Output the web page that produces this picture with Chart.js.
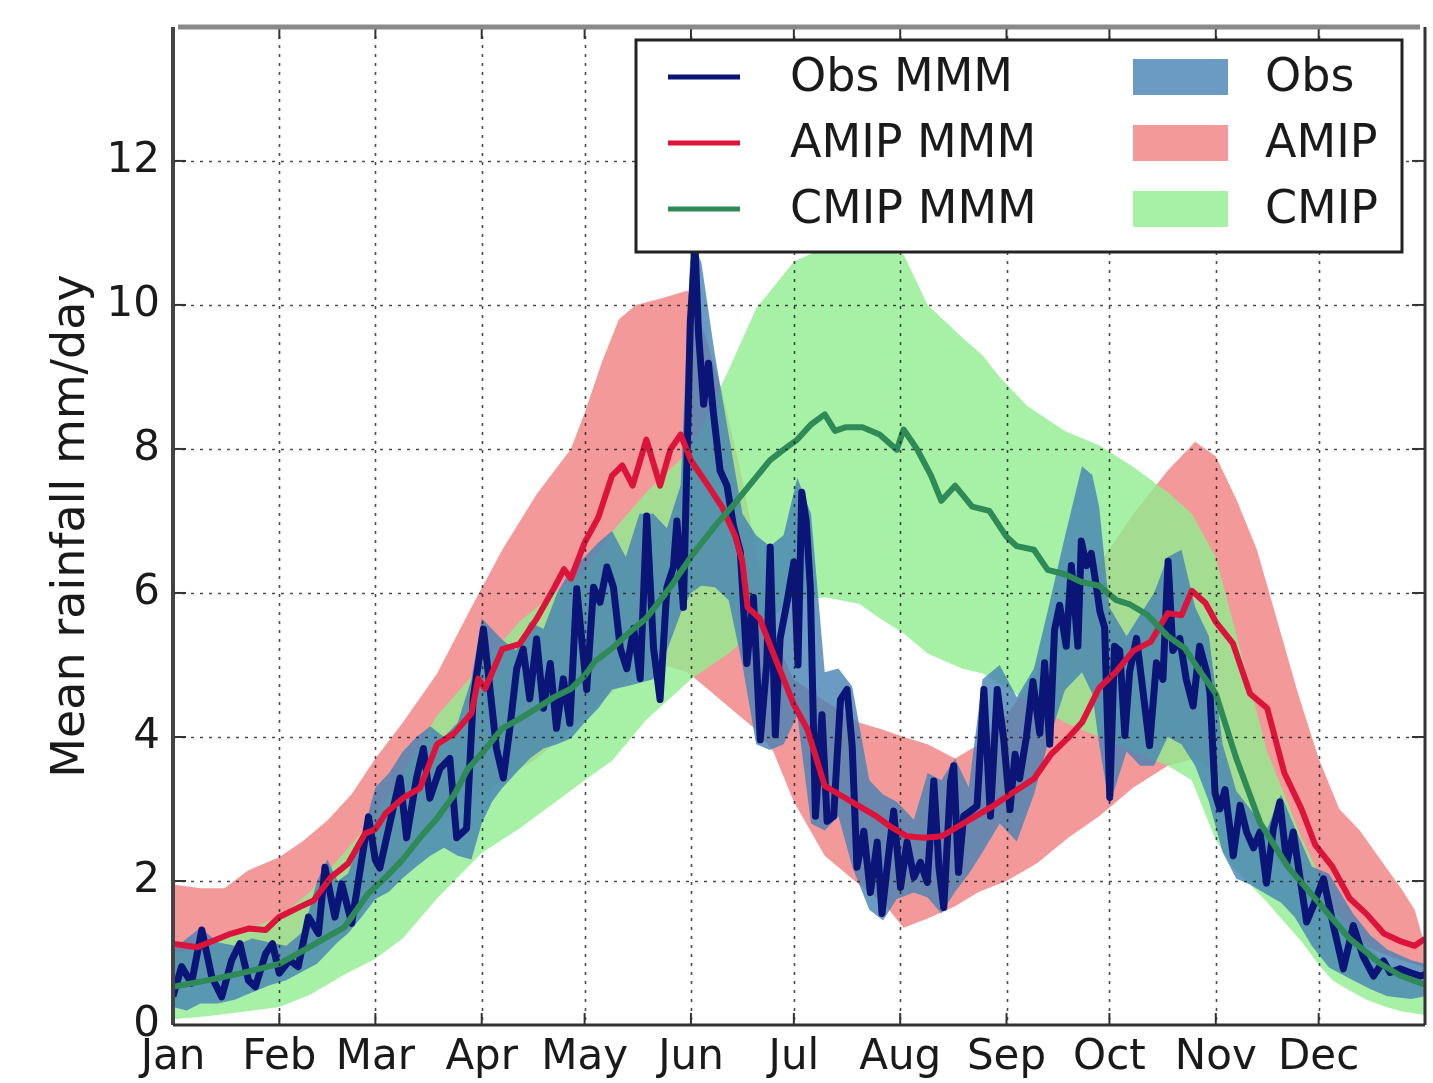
<!DOCTYPE html>
<html>
<head>
<meta charset="utf-8">
<title>Mean rainfall</title>
<script src="https://cdn.jsdelivr.net/npm/chart.js@4.4.1/dist/chart.umd.min.js"></script>
<style>
  html, body { margin: 0; padding: 0; background: #fff; }
  #wrap { width: 1433px; height: 1083px; }
</style>
</head>
<body>
<div id="wrap"><canvas id="rainChart" width="1433" height="1083"></canvas></div>
<script>
// x values are day of year (0 = 1 Jan)
const monthStarts = [0, 31, 59, 90, 120, 151, 181, 212, 243, 273, 304, 334];
const monthNames = ['Jan', 'Feb', 'Mar', 'Apr', 'May', 'Jun', 'Jul', 'Aug', 'Sep', 'Oct', 'Nov', 'Dec'];
const yTicks = [0, 2, 4, 6, 8, 10, 12];

// Obs multi-model mean (daily, noisy)
const obsMmmDays = [
  0, 2.5, 5.4, 8.4, 11.3, 14.2, 17.1, 19.5, 22, 24, 27, 29, 31, 34, 36.5, 39.5, 42.4, 44.3, 47.2, 49.2, 52.1, 55, 57, 59,
  60.3, 63.2, 66.2, 68.1, 71, 73, 74.9, 77.8, 80.7, 82.7, 85.6, 87.5, 90.5, 92.4, 94.3, 96.3, 98.2, 100.2, 102.1, 104, 106, 108, 110, 111.8, 113.8, 115.7, 117.7,
  120.6, 122.6, 124.5, 126.5, 128.4, 130.4, 132.3, 134.3, 136.2, 138.1, 140.1, 142, 144, 145.9, 146.9, 148.8, 149.8, 150.8, 152.2, 153.2, 154.7, 156.1, 157.6, 159.5, 161.5, 163.4, 165.4, 167.3, 169.2, 171.2, 173.1, 174.1, 175.6, 177, 179, 181,
  182.2, 183.3, 184.6, 185.8, 187.3, 189.2, 190.7, 192.6, 194.6, 196.5, 198, 199.4, 201.4, 203.3, 205.3, 206.7, 208.2, 210.1, 212.1, 214, 216, 217.9, 219.9, 221.8, 223.3, 224.7, 226.7, 227.6, 229, 230.5, 232.5, 234.4, 236.4, 238.3, 240.3, 242.2,
  244, 245.5, 246.8, 248.8, 250.7, 252.7, 254.1, 255.6, 257, 258.5, 260.4, 261.9, 263.8, 264.8, 266.3, 267.7, 269.2, 270.2, 271.6, 273.1, 274.5, 276, 277.5, 278.9, 280.9, 282.8, 284.7, 286.7, 288.6, 290.1, 291.5, 293.5, 295.4, 297.4, 299.3, 301.3,
  302.3, 303.8, 305.2, 306.7, 309.1, 311.1, 313, 315, 316.9, 318.8, 320.8, 322.7, 324.7, 326.6, 328.6, 330.5, 332.4, 335.4, 338.3, 341.2, 344.1, 347, 350, 352.9, 354.8, 357.7, 360.6, 363.6, 365
];
const obsMmm = [
  0.4, 0.81, 0.58, 1.32, 0.67, 0.39, 0.9, 1.13, 0.62, 0.53, 0.99, 1.13, 0.72, 0.9, 0.81, 1.5, 1.27, 2.19, 1.5, 1.96, 1.41, 2.29, 2.89, 2.29,
  2.18, 2.8, 3.43, 2.6, 3.43, 3.84, 3.15, 3.56, 3.7, 2.6, 2.73, 4.53, 5.5, 4.67, 3.84, 3.43, 4.12, 4.95, 5.22, 4.53, 5.36, 4.4, 5.02, 4.12, 4.81, 4.19, 6.06,
  4.66, 6.08, 5.87, 6.36, 6.08, 5.23, 4.95, 5.51, 4.81, 7.07, 5.23, 4.52, 6.08, 6.36, 7.0, 5.8, 7.77, 9.75, 10.8, 9.61, 8.62, 9.19, 8.48, 7.7, 7.49, 6.93, 6.57, 5.02, 5.94, 3.96, 5.02, 6.64, 4.03, 5.37, 5.87, 6.43,
  5.0, 7.4, 7.0, 6.08, 2.9, 4.31, 2.83, 2.9, 4.52, 4.66, 3.88, 2.19, 2.69, 1.84, 2.54, 1.55, 2.19, 2.97, 1.91, 2.54, 2.05, 2.26, 1.98, 3.39, 2.19, 1.63, 3.39, 3.6, 2.12, 2.9, 2.97, 3.04, 4.66, 2.9, 4.66, 3.96,
  2.99, 3.76, 3.42, 4.0, 4.77, 4.05, 5.03, 3.9, 5.49, 5.83, 5.26, 6.38, 5.26, 6.72, 6.38, 6.55, 6.09, 5.75, 5.52, 3.16, 5.26, 5.2, 4.02, 4.91, 5.37, 4.63, 3.88, 5.03, 4.8, 6.44, 5.2, 5.37, 4.8, 4.43, 5.26, 4.91,
  4.62, 3.22, 3.0, 3.27, 2.35, 3.05, 2.68, 2.46, 2.68, 1.97, 2.73, 3.1, 2.24, 2.68, 2.03, 1.43, 1.65, 2.03, 1.38, 0.78, 1.38, 0.95, 0.68, 0.89, 0.73, 0.78, 0.73, 0.68, 0.7
];

// AMIP multi-model mean
const amipMmmDays = [0, 7, 17, 22, 27, 31, 37, 41, 46, 51, 56, 59, 62, 67, 72, 77, 82, 87, 89, 91, 96, 101, 106, 111, 114, 116, 120, 124, 128, 131,
  134, 138, 142, 145, 148, 151, 156, 160, 164, 166, 167.5, 171, 175, 181, 185, 190, 195, 200, 205, 209, 214, 219, 224, 229, 234, 239, 244, 251, 256, 261,
  265, 270, 275, 280, 285, 290, 294, 297, 301, 304, 309, 314, 319, 324, 329, 333, 338, 343, 348, 353, 358, 362, 365];
const amipMmm = [1.13, 1.08, 1.27, 1.34, 1.32, 1.5, 1.64, 1.73, 2.05, 2.24, 2.66, 2.72, 2.94, 3.15, 3.29, 3.9, 4.05, 4.33, 4.81, 4.67, 5.22, 5.29, 5.64, 6.06, 6.33, 6.2, 6.7, 7.05, 7.63, 7.77,
  7.49, 8.13, 7.49, 7.99, 8.2, 7.84, 7.49, 7.2, 6.78, 6.43, 5.8, 5.65, 5.16, 4.45, 4.1, 3.32, 3.18, 3.04, 2.9, 2.76, 2.62, 2.6, 2.62, 2.76, 2.9, 3.04, 3.2, 3.42, 3.76, 3.99,
  4.2, 4.68, 4.91, 5.2, 5.32, 5.72, 5.69, 6.03, 5.86, 5.6, 5.3, 4.6, 4.4, 3.5, 3.0, 2.5, 2.2, 1.76, 1.54, 1.27, 1.16, 1.1, 1.2];

// CMIP multi-model mean
const cmipMmmDays = [0, 10, 20, 31, 40, 50, 57, 62, 67, 72, 77, 82, 86, 90, 96, 101, 106, 111, 116, 120, 123, 128, 133, 138, 145, 151, 158, 163, 168, 174,
  178, 182, 186, 190, 193, 196, 201, 206, 211, 213, 217, 221, 224, 228, 233, 238, 243, 246, 251, 255, 260, 265, 270, 275, 279, 284, 290, 295, 299, 304,
  310, 317, 325, 334, 343, 352, 358, 365];
const cmipMmm = [0.53, 0.62, 0.72, 0.85, 1.09, 1.36, 1.83, 2.05, 2.3, 2.6, 2.87, 3.2, 3.56, 3.77, 4.12, 4.25, 4.4, 4.55, 4.67, 4.85, 5.05, 5.23, 5.45, 5.65, 6.08, 6.5, 6.93, 7.2, 7.49, 7.84,
  7.99, 8.13, 8.34, 8.48, 8.25, 8.3, 8.3, 8.2, 7.99, 8.27, 7.99, 7.63, 7.28, 7.49, 7.2, 7.14, 6.78, 6.65, 6.6, 6.32, 6.26, 6.15, 6.1, 5.9, 5.84, 5.7, 5.4, 5.23, 4.94, 4.6,
  3.7, 2.8, 2.2, 1.7, 1.2, 0.85, 0.68, 0.56];

// Obs spread
const obsBandDays = [0, 4, 8, 13, 18, 23, 28, 33, 38, 42, 45, 48, 51, 55, 59, 63, 67, 71, 75, 79, 83, 87, 90, 93, 96, 100, 104, 108, 112, 116,
  120, 124, 128, 132, 136, 140, 144, 148, 151, 154, 158, 162, 166, 170, 174, 178, 182, 186, 190, 194, 198, 203, 207, 211, 216, 220, 224, 228, 232, 236,
  241, 246, 251, 255, 260, 265, 268, 270, 273, 278, 282, 286, 290, 294, 298, 302, 306, 310, 314, 319, 323, 327, 332, 337, 344, 349, 354, 361, 365];
const obsBandHigh = [1.05, 1.2, 1.35, 1.15, 1.1, 1.2, 1.15, 1.1, 1.3, 2.0, 2.3, 2.0, 2.1, 2.6, 3.3, 3.5, 3.8, 4.0, 4.15, 4.0, 4.2, 4.8, 5.65, 5.5, 5.35, 5.2, 5.6, 5.5, 6.0, 6.33,
  6.5, 6.7, 6.86, 6.5, 7.1, 7.1, 6.9, 7.5, 10.9, 10.6, 9.3, 8.2, 7.1, 6.8, 6.65, 6.8, 7.6, 7.1, 4.9, 4.95, 4.7, 3.4, 3.2, 3.1, 2.85, 3.5, 3.4, 3.7, 3.3, 4.8,
  5.0, 4.55, 4.95, 5.75, 6.78, 7.76, 7.64, 7.2, 5.8, 5.4, 5.7, 6.0, 6.5, 6.6, 5.8, 5.4, 3.9, 3.25, 3.0, 2.73, 3.2, 2.75, 2.2, 2.1, 1.55, 1.25, 1.05, 0.9, 0.85];
const obsBandLow = [0.25, 0.2, 0.3, 0.3, 0.35, 0.45, 0.55, 0.62, 0.75, 0.85, 1.0, 1.15, 1.27, 1.5, 1.75, 1.85, 2.04, 2.2, 2.35, 2.46, 2.35, 2.3, 2.8, 3.1, 3.29, 3.5, 3.7, 3.84, 3.9, 3.98,
  4.2, 4.4, 4.66, 4.7, 4.75, 4.8, 5.2, 5.72, 6.0, 6.1, 6.08, 5.9, 5.0, 3.9, 3.82, 3.9, 4.3, 2.8, 2.7, 2.9, 2.2, 1.6, 1.45, 1.75, 1.84, 1.77, 1.55, 1.85, 2.1, 2.4,
  2.8, 2.55, 3.2, 3.9, 4.65, 4.9, 4.6, 3.9, 3.05, 3.8, 3.6, 3.6, 4.0, 3.9, 3.6, 3.1, 2.4, 2.03, 1.95, 1.81, 1.7, 1.5, 1.1, 0.8, 0.62, 0.5, 0.4, 0.36, 0.4];

// AMIP spread
const amipBandDays = [0, 8, 15, 22, 31, 38, 45, 52, 59, 67, 77, 87, 96, 106, 116, 120, 125, 130, 135, 143,
  150, 155, 160, 165, 170, 175, 181, 190, 200, 207, 213, 220, 228, 235, 243, 252, 261, 270, 280, 290,
  298, 304, 310, 316, 322, 328, 334, 340, 346, 352, 358, 362, 365];
const amipBandHigh = [1.95, 1.9, 1.9, 2.15, 2.33, 2.56, 2.84, 3.2, 3.7, 4.2, 4.88, 5.8, 6.6, 7.37, 8.0, 8.5, 9.2, 9.8, 10.0, 10.1,
  10.2, 9.6, 8.8, 7.8, 6.6, 5.4, 4.8, 4.5, 4.2, 4.1, 4.0, 3.9, 3.7, 3.9, 4.3, 4.9, 5.6, 6.4, 7.1, 7.7,
  8.1, 7.9, 7.3, 6.6, 5.6, 4.6, 3.7, 3.0, 2.7, 2.3, 1.9, 1.6, 1.1];
const amipBandLow = [0.6, 0.6, 0.65, 0.7, 0.85, 1.0, 1.25, 1.55, 1.9, 2.3, 2.8, 3.1, 3.4, 3.7, 4.1, 4.3, 4.5, 4.7, 4.9, 5.0,
  4.9, 4.7, 4.5, 4.3, 4.1, 3.8, 3.1, 2.35, 1.95, 1.7, 1.35, 1.48, 1.65, 1.85, 2.0, 2.25, 2.6, 2.9, 3.3, 3.6,
  3.7, 3.5, 3.1, 2.7, 2.3, 1.9, 1.6, 1.35, 1.15, 1.0, 0.9, 0.85, 0.8];

// CMIP spread
const cmipBandDays = [0, 10, 20, 31, 40, 50, 59, 67, 77, 90, 101, 111, 120, 128, 138, 151, 162, 170, 181, 190,
  200, 206, 213, 220, 230, 236, 241, 249, 260, 270, 280, 290, 297, 304, 309, 314, 319, 324, 329, 334,
  338, 343, 348, 353, 358, 365];
const cmipBandHigh = [1.0, 1.1, 1.3, 1.5, 1.85, 2.4, 2.9, 3.5, 4.3, 5.0, 5.6, 6.0, 6.3, 6.85, 7.4, 8.0, 9.1, 9.95, 10.6, 10.8,
  10.8, 10.75, 10.7, 10.0, 9.55, 9.3, 9.0, 8.6, 8.25, 8.05, 7.75, 7.4, 7.1, 6.5, 5.6, 4.7, 3.8, 3.2, 2.6, 2.1,
  1.65, 1.35, 1.1, 0.9, 0.73, 0.5];
const cmipBandLow = [0.08, 0.12, 0.18, 0.25, 0.42, 0.7, 0.92, 1.2, 1.76, 2.39, 2.73, 3.08, 3.4, 3.67, 4.24, 4.8, 5.16, 5.5, 5.9, 5.94,
  5.85, 5.65, 5.44, 5.16, 4.95, 4.88, 4.74, 4.5, 4.2, 4.0, 3.8, 3.6, 3.4, 2.57, 2.19, 1.95, 1.7, 1.43, 1.16, 0.84,
  0.62, 0.48, 0.35, 0.26, 0.19, 0.14];

const FONT = 'DejaVu Sans';
const TEXT = '#1a1a1a';
const OBS_FILL = 'rgba(70,130,180,0.8)';
const AMIP_FILL = 'rgba(240,128,128,0.8)';
const CMIP_FILL = 'rgba(144,238,144,0.8)';

const pts = (xs, ys) => xs.map((x, i) => ({ x: x, y: ys[i] }));
const hidden = 'rgba(0,0,0,0)';

function band(label, days, hi, lo, color, order) {
  return [
    { label: label, data: pts(days, hi), fill: '+1', backgroundColor: color,
      borderColor: hidden, borderWidth: 0, pointRadius: 0, order: order },
    { label: label + ' low', data: pts(days, lo), fill: false,
      borderColor: hidden, borderWidth: 0, pointRadius: 0, order: order + 1 }
  ];
}

// grid on top of the fills, spines, inward ticks and the legend box
const framePlugin = {
  id: 'frame',
  afterDatasetsDraw(chart) {
    const ctx = chart.ctx;
    const a = chart.chartArea;
    const x = chart.scales.x, y = chart.scales.y;
    ctx.save();

    // dotted grid
    ctx.beginPath();
    ctx.rect(a.left, a.top, a.right - a.left, a.bottom - a.top);
    ctx.clip();
    ctx.setLineDash([3, 6]);
    ctx.lineWidth = 1.6;
    ctx.strokeStyle = 'rgba(30,30,30,0.8)';
    monthStarts.forEach(d => {
      const px = Math.round(x.getPixelForValue(d)) + 0.5;
      ctx.beginPath(); ctx.moveTo(px, a.top); ctx.lineTo(px, a.bottom); ctx.stroke();
    });
    yTicks.forEach(v => {
      const py = Math.round(y.getPixelForValue(v)) + 0.5;
      ctx.beginPath(); ctx.moveTo(a.left, py); ctx.lineTo(a.right, py); ctx.stroke();
    });
    ctx.restore();

    ctx.save();
    // inward tick marks
    ctx.strokeStyle = '#333';
    ctx.lineWidth = 2;
    monthStarts.forEach(d => {
      const px = x.getPixelForValue(d);
      ctx.beginPath(); ctx.moveTo(px, a.bottom); ctx.lineTo(px, a.bottom - 12); ctx.stroke();
      ctx.beginPath(); ctx.moveTo(px, a.top); ctx.lineTo(px, a.top + 12); ctx.stroke();
    });
    yTicks.forEach(v => {
      const py = y.getPixelForValue(v);
      ctx.beginPath(); ctx.moveTo(a.left, py); ctx.lineTo(a.left + 13, py); ctx.stroke();
      ctx.beginPath(); ctx.moveTo(a.right, py); ctx.lineTo(a.right - 13, py); ctx.stroke();
    });

    // spines
    ctx.strokeStyle = '#8a8a8a';
    ctx.lineWidth = 5;
    ctx.beginPath(); ctx.moveTo(a.left + 5, a.top); ctx.lineTo(a.right - 5, a.top); ctx.stroke();
    ctx.strokeStyle = '#444';
    ctx.lineWidth = 4;
    ctx.beginPath(); ctx.moveTo(a.left, a.top); ctx.lineTo(a.left, a.bottom); ctx.stroke();
    ctx.lineWidth = 3;
    ctx.strokeStyle = '#333';
    ctx.beginPath(); ctx.moveTo(a.left, a.bottom); ctx.lineTo(a.right, a.bottom); ctx.stroke();
    ctx.beginPath(); ctx.moveTo(a.right, a.top); ctx.lineTo(a.right, a.bottom); ctx.stroke();

    // legend
    const ds = chart.data.datasets;
    const bw = 766, bh = 212;
    const bx = a.right - 23 - bw, by = a.top + 13;
    ctx.fillStyle = '#fff';
    ctx.fillRect(bx, by, bw, bh);
    ctx.lineWidth = 3;
    ctx.strokeStyle = '#222';
    ctx.strokeRect(bx, by, bw, bh);
    const rows = [
      { line: ds[0], patch: ds[7] },
      { line: ds[1], patch: ds[3] },
      { line: ds[2], patch: ds[5] }
    ];
    ctx.font = '46px "' + FONT + '"';
    ctx.textBaseline = 'middle';
    ctx.textAlign = 'left';
    rows.forEach((r, i) => {
      const cy = by + 37 + i * 66;
      ctx.strokeStyle = r.line.borderColor;
      ctx.lineWidth = 5;
      ctx.beginPath(); ctx.moveTo(bx + 32, cy); ctx.lineTo(bx + 104, cy); ctx.stroke();
      ctx.fillStyle = TEXT;
      ctx.fillText(r.line.label, bx + 154, cy + 2);
      ctx.fillStyle = r.patch.backgroundColor;
      ctx.fillRect(bx + 497, cy - 18, 95, 36);
      ctx.fillStyle = TEXT;
      ctx.fillText(r.patch.label, bx + 629, cy + 2);
    });
    ctx.restore();
  }
};

const datasets = [
  { label: 'Obs MMM', data: pts(obsMmmDays, obsMmm), borderColor: '#0b1577', borderWidth: 7,
    pointRadius: 0, fill: false, order: 3 },
  { label: 'AMIP MMM', data: pts(amipMmmDays, amipMmm), borderColor: '#dc143c', borderWidth: 6,
    pointRadius: 0, fill: false, order: 2 },
  { label: 'CMIP MMM', data: pts(cmipMmmDays, cmipMmm), borderColor: '#2e8b57', borderWidth: 6,
    pointRadius: 0, fill: false, order: 1 }
].concat(
  band('AMIP', amipBandDays, amipBandHigh, amipBandLow, AMIP_FILL, 30),
  band('CMIP', cmipBandDays, cmipBandHigh, cmipBandLow, CMIP_FILL, 20),
  band('Obs', obsBandDays, obsBandHigh, obsBandLow, OBS_FILL, 10)
);

new Chart(document.getElementById('rainChart').getContext('2d'), {
  type: 'line',
  data: { datasets: datasets },
  options: {
    responsive: false,
    animation: false,
    layout: { padding: { left: 0, top: 27, right: 8, bottom: 0 } },
    plugins: { legend: { display: false }, tooltip: { enabled: false } },
    elements: { line: { tension: 0, borderJoinStyle: 'round' } },
    scales: {
      x: {
        type: 'linear', min: 0, max: 365,
        grid: { display: false, drawTicks: false },
        border: { display: false },
        afterBuildTicks: s => { s.ticks = monthStarts.map(v => ({ value: v })); },
        afterFit: s => { s.height = 58; s.paddingLeft = 0; s.paddingRight = 0; },
        ticks: {
          autoSkip: false, maxRotation: 0, minRotation: 0, padding: 8, color: TEXT,
          font: { family: FONT, size: 42 },
          callback: v => monthNames[monthStarts.indexOf(v)]
        }
      },
      y: {
        min: 0, max: 13.86,
        grid: { display: false, drawTicks: false },
        border: { display: false },
        afterBuildTicks: s => { s.ticks = yTicks.map(v => ({ value: v })); },
        afterFit: s => { s.width = 173; s.paddingTop = 0; s.paddingBottom = 0; },
        ticks: { padding: 13, color: TEXT, font: { family: FONT, size: 42 } },
        title: {
          display: true, text: 'Mean rainfall mm/day', color: TEXT,
          font: { family: FONT, size: 46, weight: 'normal' },
          padding: { top: 44, bottom: 0 }
        }
      }
    }
  },
  plugins: [framePlugin]
});
</script>
</body>
</html>
